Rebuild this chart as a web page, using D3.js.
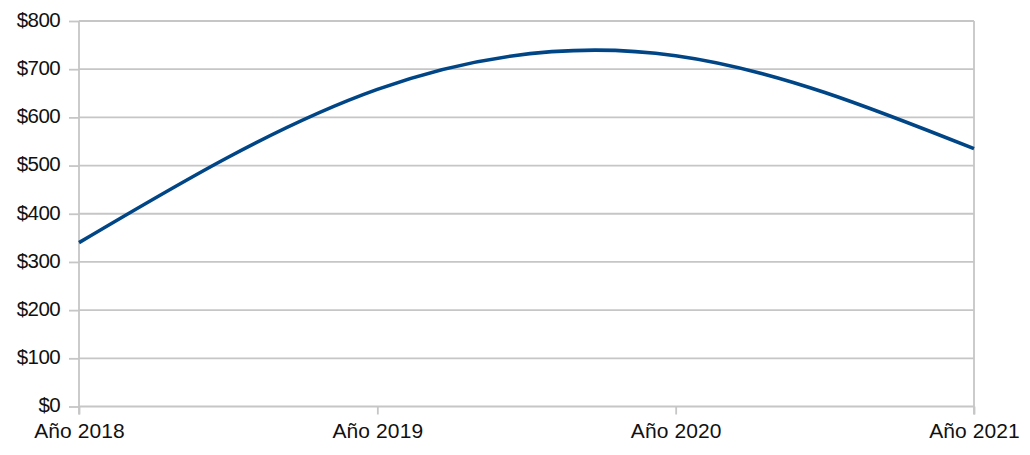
<!DOCTYPE html>
<html>
<head>
<meta charset="utf-8">
<script src="https://cdn.jsdelivr.net/npm/d3@7"></script>
<style>
  html, body { margin: 0; padding: 0; background: #fff; }
  svg { display: block; }
  text { font-family: "Liberation Sans", Arial, sans-serif; fill: #111; }
</style>
</head>
<body>
<svg id="chart" width="1030" height="455"></svg>
<script>
const categories = ["Año 2018", "Año 2019", "Año 2020", "Año 2021"];
const values = [340, 658, 728, 535];
const yTicks = [0, 100, 200, 300, 400, 500, 600, 700, 800];

(function () {
const svg = d3.select("#chart");
const mLeft = 79, mRight = 974, mTop = 21, mBottom = 406.5;

const x = d3.scalePoint().domain(categories).range([mLeft, mRight]);
const y = d3.scaleLinear().domain([0, 800]).range([mBottom, mTop]);

const gridColor = "#c6c6c6";
const gw = 1.8;

// horizontal gridlines
svg.append("g").selectAll("line").data(yTicks).join("line")
  .attr("x1", mLeft).attr("x2", mRight)
  .attr("y1", d => y(d)).attr("y2", d => y(d))
  .attr("stroke", gridColor).attr("stroke-width", gw);

// right border
svg.append("line")
  .attr("x1", mRight).attr("x2", mRight).attr("y1", y(800)).attr("y2", y(0) + 8)
  .attr("stroke", gridColor).attr("stroke-width", gw);

// Y axis
const yAxis = d3.axisLeft(y).tickValues(yTicks).tickSize(10).tickPadding(9)
  .tickFormat(d => "$" + d);
const gy = svg.append("g").attr("transform", `translate(${mLeft},0)`).call(yAxis);
gy.select(".domain").attr("stroke", gridColor).attr("stroke-width", gw)
  .attr("d", `M0,${y(800)}V${y(0) + 8}`);
gy.selectAll(".tick line").attr("stroke", gridColor).attr("stroke-width", gw);
gy.selectAll(".tick text").attr("font-size", 20.5).attr("letter-spacing", -0.6)
  .attr("font-family", "'Liberation Sans', Arial, sans-serif").attr("fill", "#111")
  .attr("dy", "0.26em");

// X axis
const xAxis = d3.axisBottom(x).tickSize(8).tickPadding(4);
const gx = svg.append("g").attr("transform", `translate(0,${mBottom})`).call(xAxis);
gx.select(".domain").remove();
gx.selectAll(".tick line").attr("stroke", gridColor).attr("stroke-width", gw);
gx.selectAll(".tick text").attr("font-size", 21).attr("letter-spacing", 0.1)
  .attr("font-family", "'Liberation Sans', Arial, sans-serif").attr("fill", "#111")
  .attr("dy", "0.92em");

// line
const line = d3.line()
  .x((d, i) => x(categories[i]))
  .y(d => y(d))
  .curve(d3.curveNatural);

svg.append("path").datum(values)
  .attr("d", line)
  .attr("fill", "none")
  .attr("stroke", "#004586")
  .attr("stroke-width", 3.6)
  .attr("stroke-linecap", "butt");
})();
</script>
</body>
</html>
